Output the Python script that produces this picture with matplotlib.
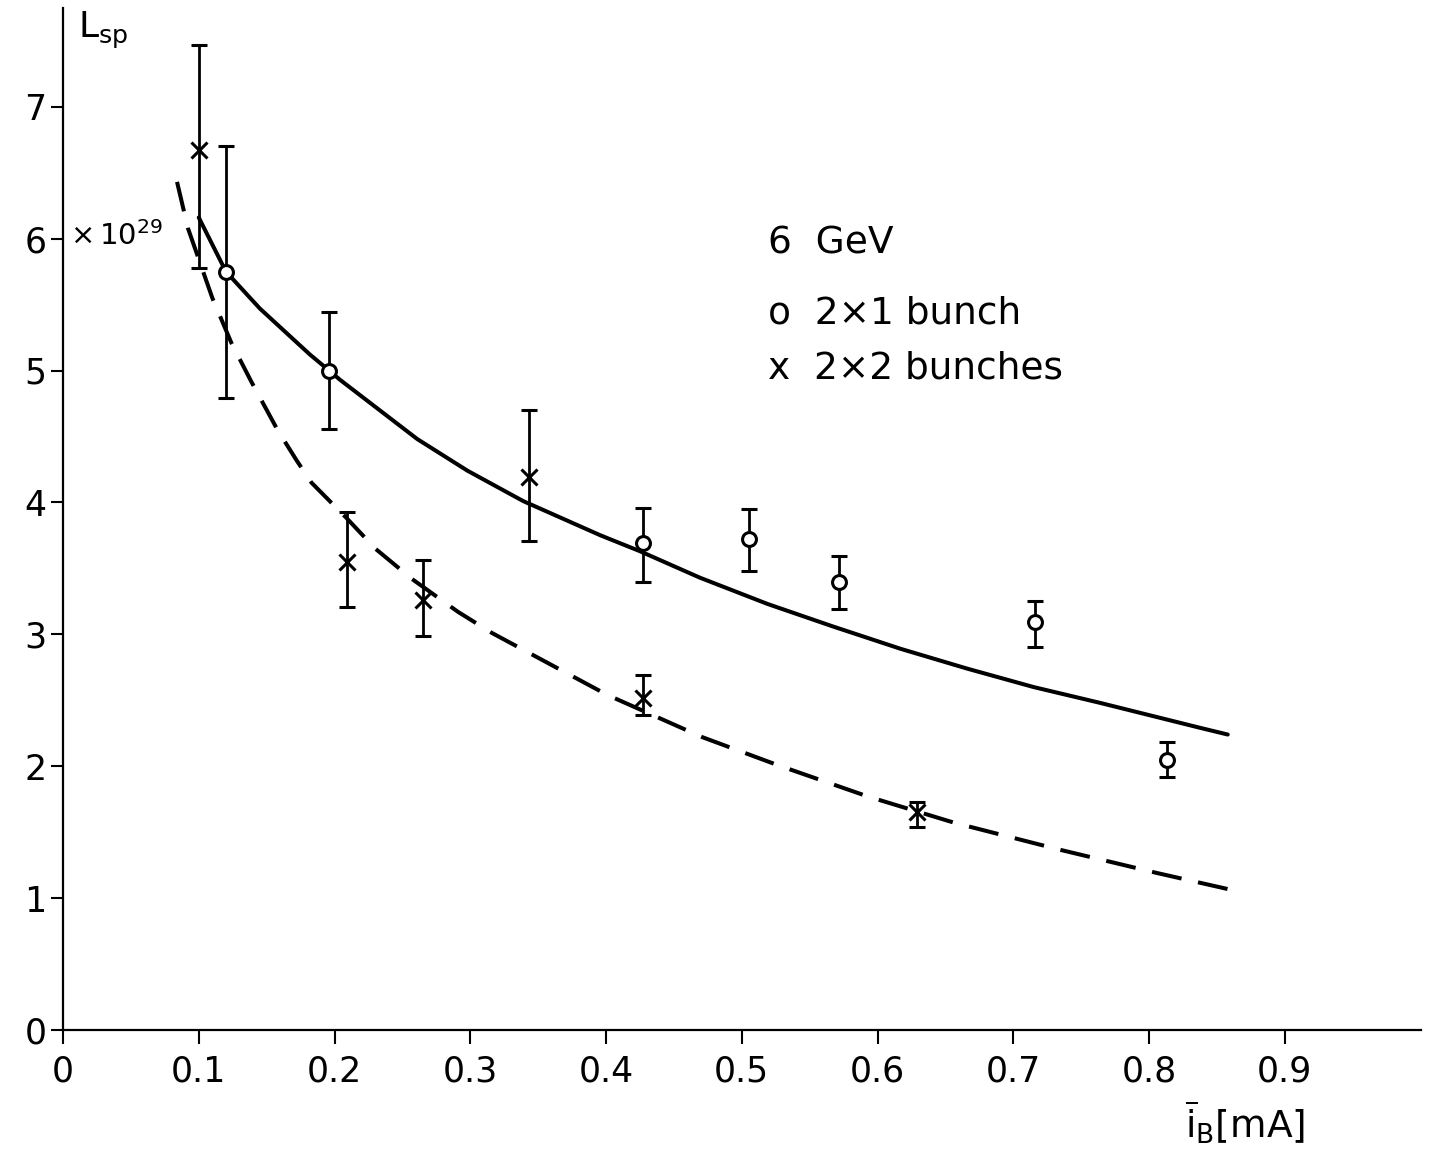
import matplotlib.pyplot as plt

# 2 x 1 bunch  (open circles)
ib_one = [0.120, 0.196, 0.427, 0.505, 0.572, 0.716, 0.813]
lsp_one = [5.75, 5.00, 3.69, 3.72, 3.40, 3.09, 2.05]
lsp_one_lo = [4.79, 4.56, 3.40, 3.48, 3.19, 2.90, 1.92]
lsp_one_hi = [6.70, 5.44, 3.96, 3.95, 3.59, 3.25, 2.18]

# 2 x 2 bunches  (crosses)
ib_two = [0.100, 0.209, 0.265, 0.343, 0.427, 0.629]
lsp_two = [6.67, 3.55, 3.26, 4.19, 2.52, 1.65]
lsp_two_lo = [5.78, 3.21, 2.99, 3.71, 2.39, 1.54]
lsp_two_hi = [7.47, 3.93, 3.56, 4.70, 2.69, 1.73]

# fitted curves
fit_one_x = [0.100, 0.120, 0.145, 0.182, 0.196, 0.204, 0.261, 0.298, 0.339, 0.396,
             0.425, 0.469, 0.519, 0.567, 0.617, 0.666, 0.715, 0.764, 0.838, 0.858]
fit_one_y = [6.16, 5.75, 5.47, 5.12, 5.00, 4.93, 4.48, 4.24, 4.01, 3.75,
             3.63, 3.43, 3.23, 3.06, 2.89, 2.74, 2.60, 2.48, 2.29, 2.24]
fit_two_x = [0.084, 0.092, 0.110, 0.124, 0.139, 0.158, 0.172, 0.183, 0.209, 0.230,
             0.257, 0.291, 0.316, 0.401, 0.471, 0.526, 0.593, 0.657, 0.733, 0.806, 0.866]
fit_two_y = [6.43, 6.08, 5.55, 5.21, 4.91, 4.55, 4.32, 4.15, 3.88, 3.65,
             3.42, 3.17, 3.01, 2.54, 2.22, 2.01, 1.77, 1.57, 1.37, 1.19, 1.05]

x_ticks = [0, 0.1, 0.2, 0.3, 0.4, 0.5, 0.6, 0.7, 0.8, 0.9]
x_labels = ['0', '0.1', '0.2', '0.3', '0.4', '0.5', '0.6', '0.7', '0.8', '0.9']
y_ticks = [0, 1, 2, 3, 4, 5, 6, 7]

W, H = 1436, 1152
fig = plt.figure(figsize=(W / 100, H / 100), dpi=100)
ax = fig.add_axes([63 / W, 122 / H, 1357.5 / W, 7.75 * 131.9 / H])

ax.plot(fit_one_x, fit_one_y, color='black', lw=2.9, solid_capstyle='round')
ax.plot(fit_two_x, fit_two_y, color='black', lw=2.9, dashes=(7.5, 4.2))

err_one = [[v - lo for v, lo in zip(lsp_one, lsp_one_lo)],
           [hi - v for v, hi in zip(lsp_one, lsp_one_hi)]]
err_two = [[v - lo for v, lo in zip(lsp_two, lsp_two_lo)],
           [hi - v for v, hi in zip(lsp_two, lsp_two_hi)]]

ax.errorbar(ib_one, lsp_one, yerr=err_one, fmt='o', ms=10, mfc='white', mec='black',
            mew=2.2, ecolor='black', elinewidth=2, capsize=5.5, capthick=2.4, zorder=3)
ax.errorbar(ib_two, lsp_two, yerr=err_two, fmt='x', ms=12, color='black',
            mew=2.2, ecolor='black', elinewidth=2, capsize=5.5, capthick=2.4, zorder=3)

ax.set_xlim(0, 1.0)
ax.set_ylim(0, 7.75)
ax.spines['top'].set_visible(False)
ax.spines['right'].set_visible(False)
ax.spines['left'].set_linewidth(1.6)
ax.spines['bottom'].set_linewidth(1.6)
ax.set_xticks(x_ticks)
ax.set_xticklabels(x_labels)
ax.set_yticks(y_ticks)
ax.tick_params(axis='both', direction='out', width=1.5, labelsize=25)
ax.tick_params(axis='y', length=9, pad=3)
ax.tick_params(axis='x', length=10, pad=8)

fig.text(78 / W, 1 - 38 / H, r'$\mathregular{L_{sp}}$', fontsize=26, va='baseline')
fig.text(70 / W, 1 - 245 / H, r'$\mathregular{\times\,10^{29}}$', fontsize=21,
         va='baseline')
fig.text(1185 / W, 1 - 1138 / H, r'$\overline{\mathregular{i}}_{\mathregular{B}}$[mA]',
         fontsize=27, va='baseline')

ax.text(0.519, 5.89, '6  GeV', fontsize=27, va='baseline')
ax.text(0.519, 5.36, 'o  2\u00d71 bunch', fontsize=27, va='baseline')
ax.text(0.519, 4.94, 'x  2\u00d72 bunches', fontsize=27, va='baseline')

fig.savefig('out.png', dpi=100)
